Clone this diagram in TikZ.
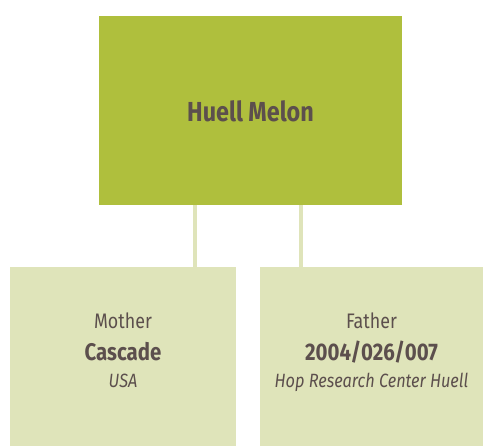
\documentclass[tikz,border=0pt]{standalone}
\usepackage{fontspec}
\setmainfont{Fira Sans}[FakeStretch=0.85]
\definecolor{topgreen}{HTML}{AFBF3D}
\definecolor{lightgreen}{HTML}{DFE4BA}
\definecolor{txt}{HTML}{5C4F4D}
\begin{document}
\begin{tikzpicture}[x=1pt,y=-1pt,
  box/.style={draw=none,inner sep=0pt,outer sep=0pt,anchor=north west},
  link/.style={draw=lightgreen,line width=4pt},
  lbl/.style={anchor=base,inner sep=0pt,text=txt}]
\useasboundingbox (0,0) rectangle (483,446);
\node[box,fill=topgreen,minimum width=303pt,minimum height=189pt] (top) at (99,16) {};
\node[box,fill=lightgreen,minimum width=226pt,minimum height=179pt] (mother) at (10,267) {};
\node[box,fill=lightgreen,minimum width=223pt,minimum height=179pt] (father) at (260,267) {};
\coordinate (l1) at (195,205);
\coordinate (l2) at (301,205);
\draw[link] (l1) -- (l1 |- mother.north);
\draw[link] (l2) -- (l2 |- father.north);
\node[lbl,font=\fontsize{27.5}{32}\selectfont\bfseries] (name) at (250.5,122) {Huell Melon};
\node[lbl,font=\fontsize{21}{25}\selectfont] (m1) at (123,329) {Mother};
\node[lbl,font=\fontsize{24}{28}\selectfont\bfseries] (m2) at (123,361) {Cascade};
\node[lbl,font=\fontsize{19.2}{23}\selectfont\itshape] (m3) at (123,388) {USA};
\node[lbl,font=\fontsize{21}{25}\selectfont] (f1) at (371.5,329) {Father};
\node[lbl,font=\fontsize{24}{28}\selectfont\bfseries] (f2) at (371.5,361) {2004/026/007};
\node[lbl,font=\fontsize{19.2}{23}\selectfont\itshape] (f3) at (371.5,388) {Hop Research Center Huell};
\end{tikzpicture}
\end{document}
